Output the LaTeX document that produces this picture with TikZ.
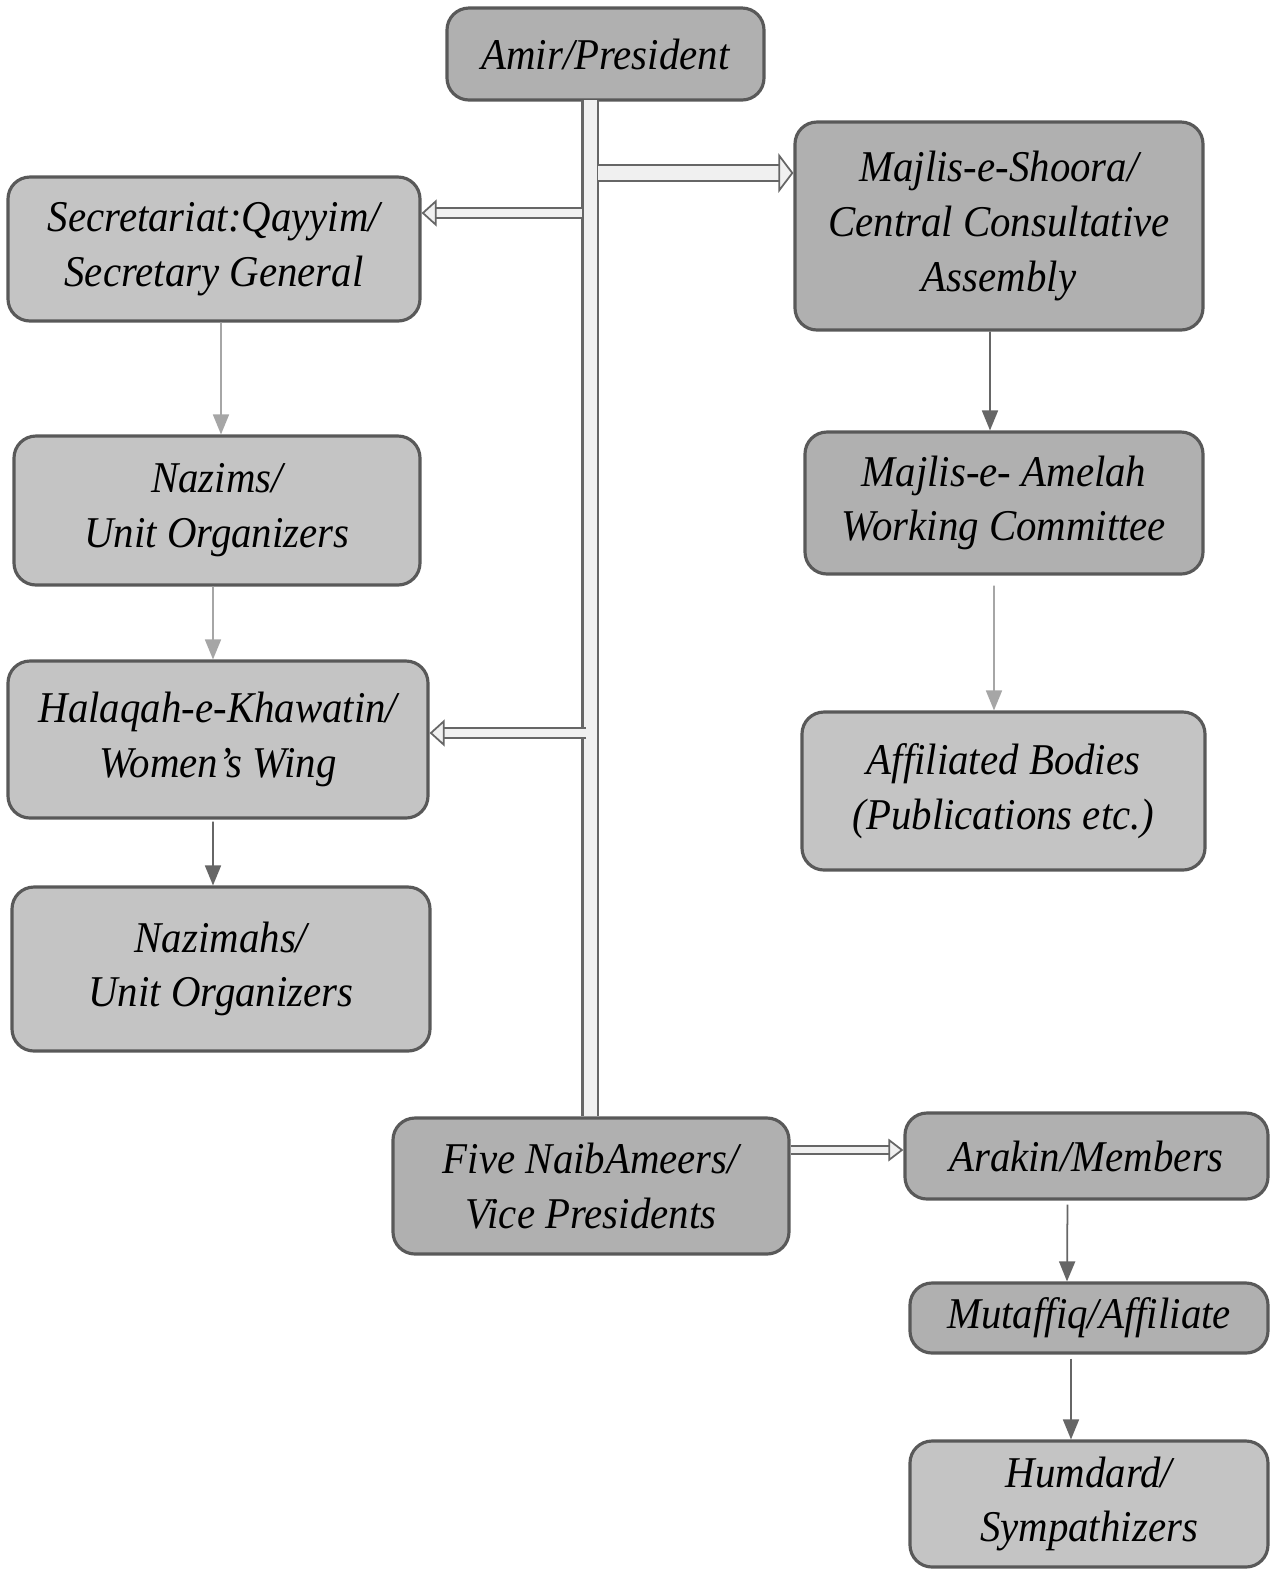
\documentclass[tikz,border=0pt]{standalone}
\usepackage{fontspec}
\setmainfont{Liberation Serif}[FakeStretch=0.93]
\usetikzlibrary{arrows.meta,positioning,calc}

\begin{document}
\begin{tikzpicture}[
    box/.style={rectangle, draw=black!65, line width=0.9pt, fill=black!31, rounded corners=0.22cm, align=center, inner sep=2pt, font=\fontsize{12.5}{15.6}\selectfont\itshape},
    lightbox/.style={box, fill=black!23},
    bar/.style={draw=black!60, line width=0.6pt, double=black!6, double distance=0.13cm},
    hollow/.style={draw=black!60, line width=0.5pt, double=black!6, double distance=#1, -{Triangle[open, fill=black!6, length=0.15cm, width=2.1*#1+0.1cm]}},
    thinarrow/.style={-{Triangle[length=0.2cm, width=0.16cm]}, draw=black!60, line width=0.5pt},
    faintarrow/.style={thinarrow, draw=black!35}
]
\useasboundingbox (0,0) rectangle (12.71,-15.69);

% Top
\node[box, minimum width=3.17cm, minimum height=0.92cm] (amir) at (6.055,-0.54) {Amir/President};

% Left column
\node[lightbox, minimum width=4.12cm, minimum height=1.44cm] (secr) at (2.14,-2.49) {Secretariat:Qayyim/\\Secretary General};
\node[lightbox, minimum width=4.06cm, minimum height=1.49cm] (nazims) at (2.17,-5.105) {Nazims/\\Unit Organizers};
\node[lightbox, minimum width=4.20cm, minimum height=1.57cm] (halaqah) at (2.18,-7.395) {Halaqah-e-Khawatin/\\Women's Wing};
\node[lightbox, minimum width=4.18cm, minimum height=1.64cm] (nazimahs) at (2.21,-9.69) {Nazimahs/\\Unit Organizers};

% Right column
\node[box, minimum width=4.08cm, minimum height=2.08cm] (shoora) at (9.99,-2.26) {Majlis-e-Shoora/\\Central Consultative\\Assembly};
\node[box, minimum width=3.98cm, minimum height=1.42cm] (amelah) at (10.04,-5.03) {Majlis-e- Amelah\\Working Committee};
\node[lightbox, minimum width=4.03cm, minimum height=1.58cm] (affil) at (10.035,-7.91) {Affiliated Bodies\\(Publications etc.)};

% Bottom
\node[box, minimum width=3.96cm, minimum height=1.36cm] (naib) at (5.91,-11.86) {Five NaibAmeers/\\Vice Presidents};
\node[box, minimum width=3.63cm, minimum height=0.86cm] (arakin) at (10.865,-11.56) {Arakin/Members};
\node[box, minimum width=3.58cm, minimum height=0.70cm] (mutaffiq) at (10.89,-13.18) {Mutaffiq/Affiliate};
\node[lightbox, minimum width=3.58cm, minimum height=1.26cm] (humdard) at (10.89,-15.04) {Humdard/\\Sympathizers};

% Main bar
\coordinate (bartop) at (5.90,-1.0);
\draw[bar] (bartop) -- (bartop |- naib.north);

% Branches off the bar
\coordinate (toshoora) at (5.98,-1.73);
\coordinate (tosecr) at (5.82,-2.13);
\coordinate (tohalaqah) at (5.86,-7.33);
\coordinate (fromnaib) at ($(naib.east |- arakin.west)+(0,0.06)$);
\draw[hollow=0.14cm] (toshoora) -- (toshoora -| shoora.west);
\draw[hollow=0.08cm] (tosecr) -- (tosecr -| secr.east);
\draw[hollow=0.08cm] (tohalaqah) -- (tohalaqah -| halaqah.east);
\draw[hollow=0.06cm] (fromnaib) -- (fromnaib -| arakin.west);

% Downward links
\draw[faintarrow] ($(secr.south)+(0.07,0)$) -- ($(nazims.north)+(0.04,0)$);
\draw[faintarrow] ($(nazims.south)+(-0.04,0)$) -- ($(halaqah.north)+(-0.05,0)$);
\draw[thinarrow] ($(halaqah.south)+(-0.05,-0.02)$) -- ($(nazimahs.north)+(-0.08,0)$);
\draw[thinarrow] ($(shoora.south)+(-0.09,0)$) -- ($(amelah.north)+(-0.14,0)$);
\draw[faintarrow] ($(amelah.south)+(-0.10,-0.1)$) -- ($(affil.north)+(-0.095,0)$);
\draw[thinarrow] ($(arakin.south)+(-0.19,-0.04)$) -- ($(mutaffiq.north)+(-0.22,0)$);
\draw[thinarrow] ($(mutaffiq.south)+(-0.18,-0.04)$) -- ($(humdard.north)+(-0.18,0)$);

\end{tikzpicture}
\end{document}
